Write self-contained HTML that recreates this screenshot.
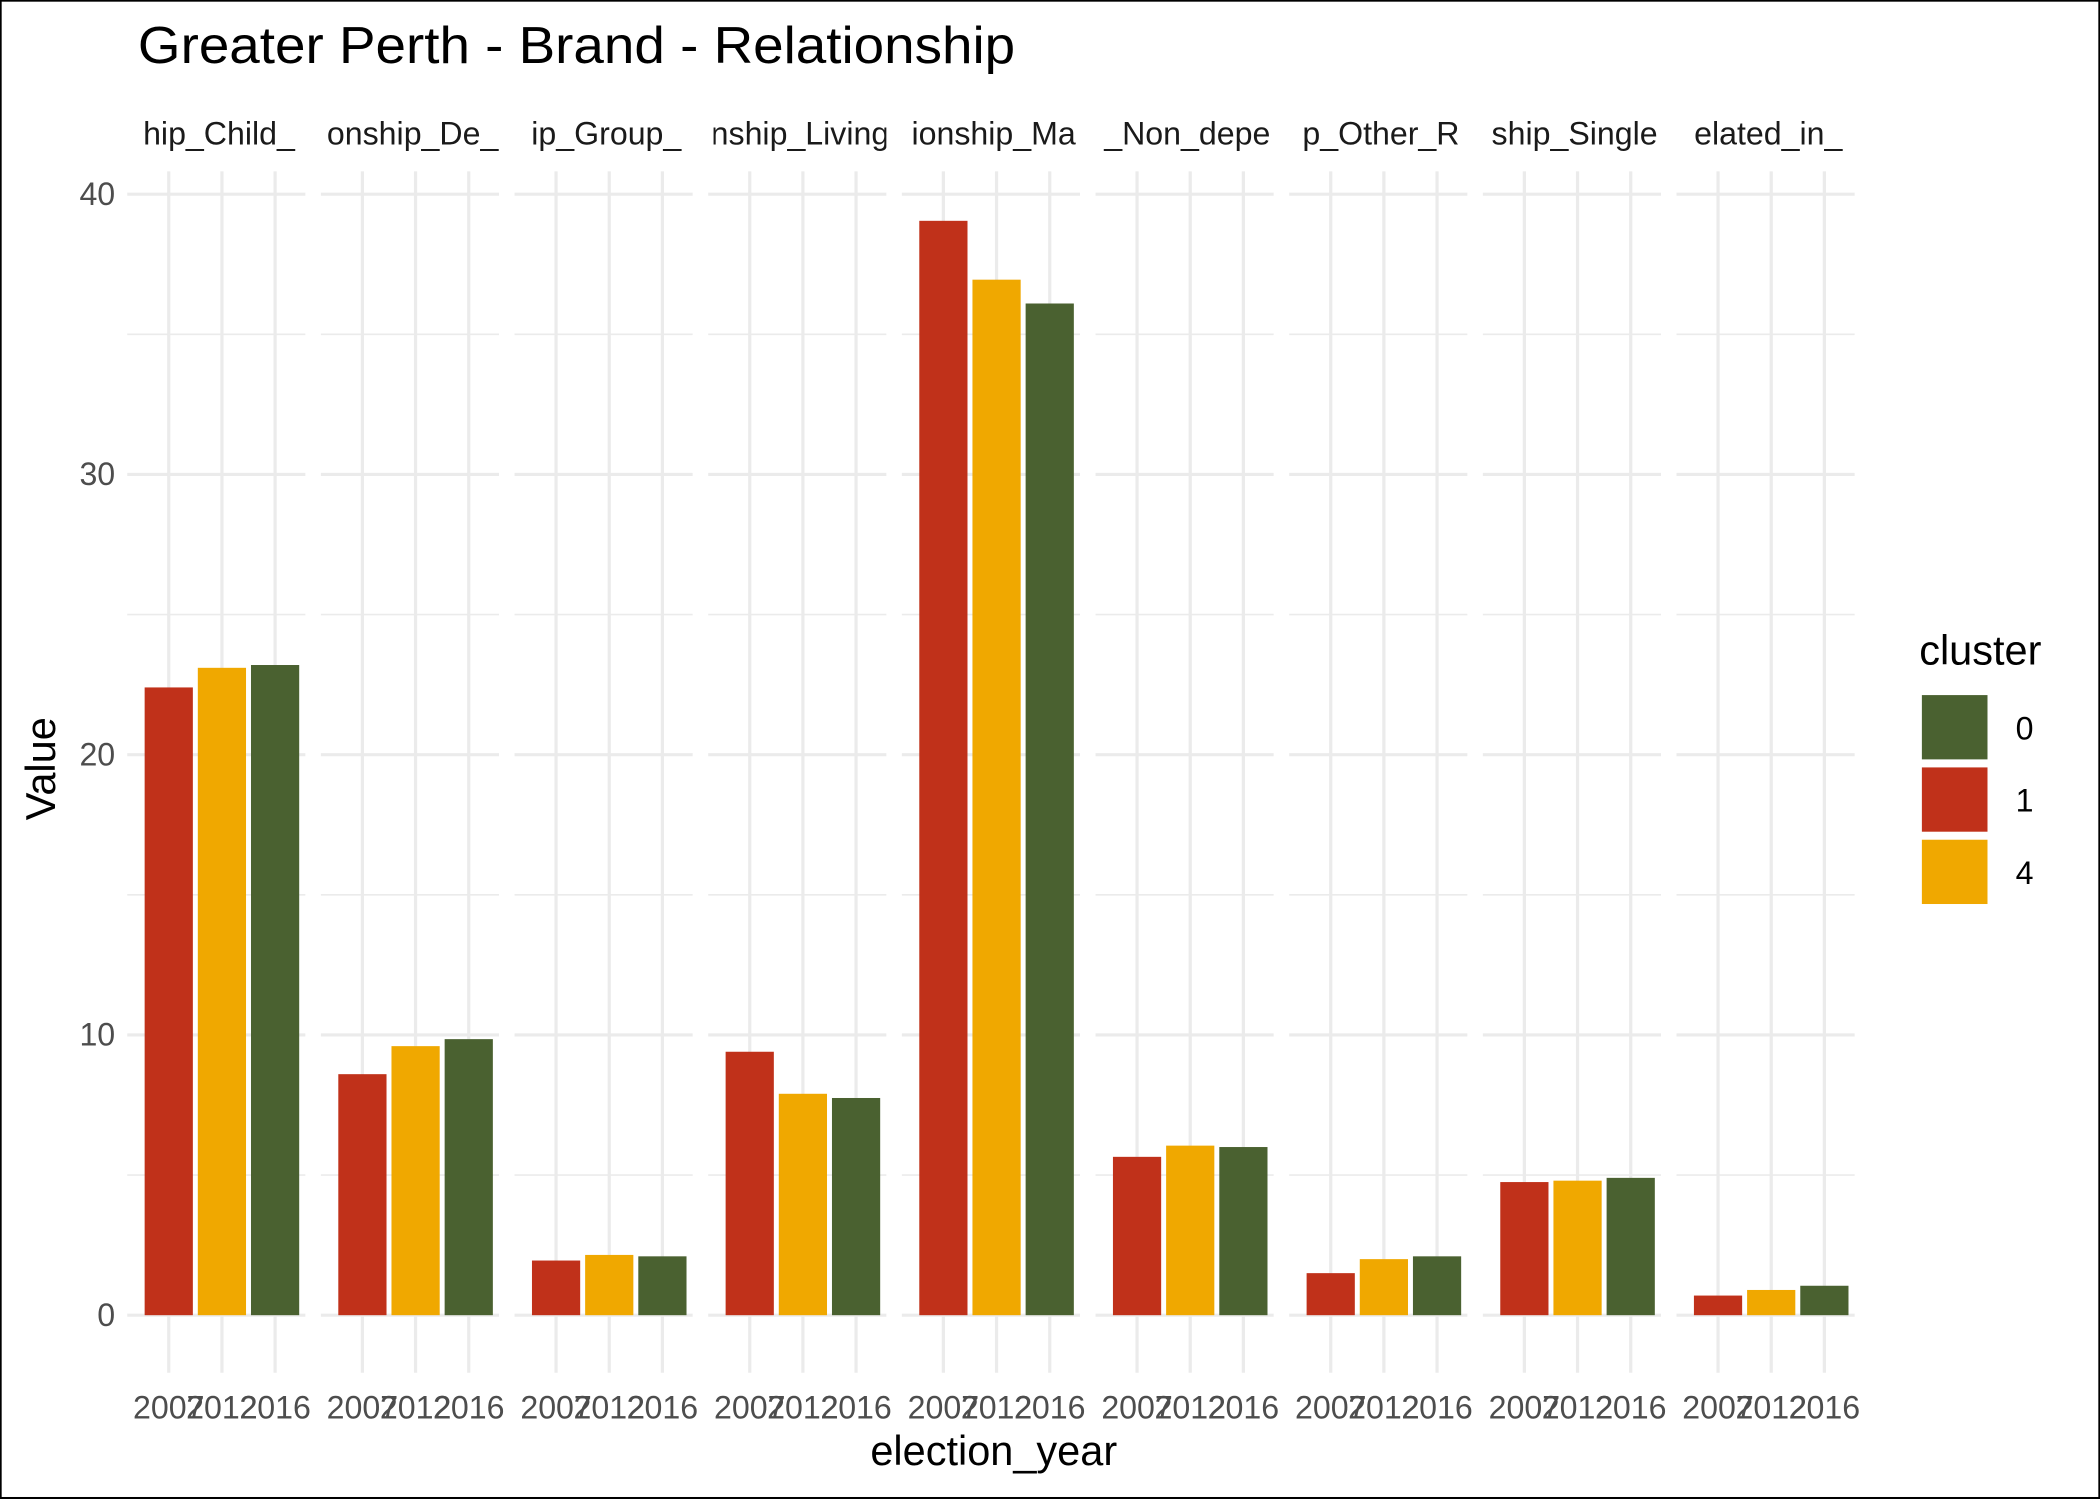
<!DOCTYPE html>
<html><head><meta charset="utf-8"><style>html,body{margin:0;padding:0;background:#fff}svg{display:block}text{font-family:"Liberation Sans",Arial,sans-serif}</style></head>
<body>
<svg id="chart" width="2100" height="1499" viewBox="0 0 1568 1119.25" xmlns="http://www.w3.org/2000/svg">
<rect x="0.5" y="0.5" width="1567" height="1118" fill="#fff" stroke="#000" stroke-width="1.5"/>
<text x="103" y="47" font-size="39" textLength="655" lengthAdjust="spacingAndGlyphs">Greater Perth - Brand - Relationship</text>
<defs id="defs"></defs>
<g id="plot"></g>
<text x="742" y="1094" font-size="31" text-anchor="middle">election_year</text>
<text transform="translate(41,574) rotate(-90)" font-size="31" text-anchor="middle">Value</text>
<g>
<text x="1433" y="496" font-size="31">cluster</text>
<rect x="1435" y="519" width="49" height="48" fill="#4A6130"/>
<rect x="1435" y="573" width="49" height="48" fill="#C0311A"/>
<rect x="1435" y="627" width="49" height="48" fill="#F0A800"/>
<text x="1505" y="552" font-size="24">0</text>
<text x="1505" y="606" font-size="24">1</text>
<text x="1505" y="660" font-size="24">4</text>
</g>
</svg>
<script>
const facets = ["hip_Child_","onship_De_","ip_Group_","nship_Living","ionship_Ma","_Non_depe","p_Other_R","ship_Single","elated_in_"];
const years = ["2007","2012","2016"];
const v2007 = [22.4, 8.6, 1.95, 9.4, 39.05, 5.65, 1.5, 4.75, 0.7];
const v2012 = [23.1, 9.6, 2.15, 7.9, 36.95, 6.05, 2.0, 4.8, 0.9];
const v2016 = [23.2, 9.85, 2.1, 7.75, 36.1, 6.0, 2.1, 4.9, 1.05];
const yTicks = [0, 10, 20, 30, 40];
const yMinor = [5, 15, 25, 35];
const colors = ["#C0311A", "#F0A800", "#4A6130"];

const NS = "http://www.w3.org/2000/svg";
const g = document.getElementById('plot');
const defs = document.getElementById('defs');
const y = v => 982 - v * (982 - 145) / 40;
const panelX = i => 95 + i * 144.6;
const PW = 133;
const barX = (i, j) => panelX(i) + 31 + j * 39.7;
function el(tag, attrs, parent) {
  const e = document.createElementNS(NS, tag);
  for (const k in attrs) e.setAttribute(k, attrs[k]);
  (parent || g).appendChild(e);
  return e;
}
const series = [v2007, v2012, v2016];
facets.forEach((f, i) => {
  const px = panelX(i);
  const cp = el('clipPath', {id: 'clip' + i}, defs);
  el('rect', {x: px + 4, y: 70, width: PW - 4, height: 50}, cp);
  const pg = el('g', {});
  
  
  yMinor.forEach(t => {
    const l = el('line', {x1: px, x2: px + PW, y1: y(t), y2: y(t), stroke: '#EBEBEB', 'stroke-width': 1.2}, pg);
    
    
  });
  yTicks.forEach(t => {
    const l = el('line', {x1: px, x2: px + PW, y1: y(t), y2: y(t), stroke: '#EBEBEB', 'stroke-width': 2.4}, pg);
    
    
  });
  years.forEach((yr, j) => {
    const cx = barX(i, j);
    const l = el('line', {x1: cx, x2: cx, y1: 128, y2: 1025, stroke: '#EBEBEB', 'stroke-width': 2.4}, pg);
    
    
  });
  years.forEach((yr, j) => {
    const cx = barX(i, j);
    const v = series[j][i];
    const r = el('rect', {x: cx - 18, y: y(v), width: 36, height: y(0) - y(v), fill: colors[j]}, pg);
    
    
    const t = el('text', {x: cx, y: 1059, 'font-size': 24, fill: '#4D4D4D', 'text-anchor': 'middle'}, pg);
    t.textContent = yr;
    
    
  });
  const s = el('text', {x: px + PW / 2 + 2, y: 108, 'font-size': 24, 'text-anchor': 'middle', fill: '#1A1A1A', 'clip-path': 'url(#clip' + i + ')'}, pg);
  s.textContent = f;
  
  
});
yTicks.forEach(t => {
  const tx = el('text', {x: 86, y: y(t) + 8, 'font-size': 24, fill: '#4D4D4D', 'text-anchor': 'end'});
  tx.textContent = t;
  
  
});
</script>
</body></html>
